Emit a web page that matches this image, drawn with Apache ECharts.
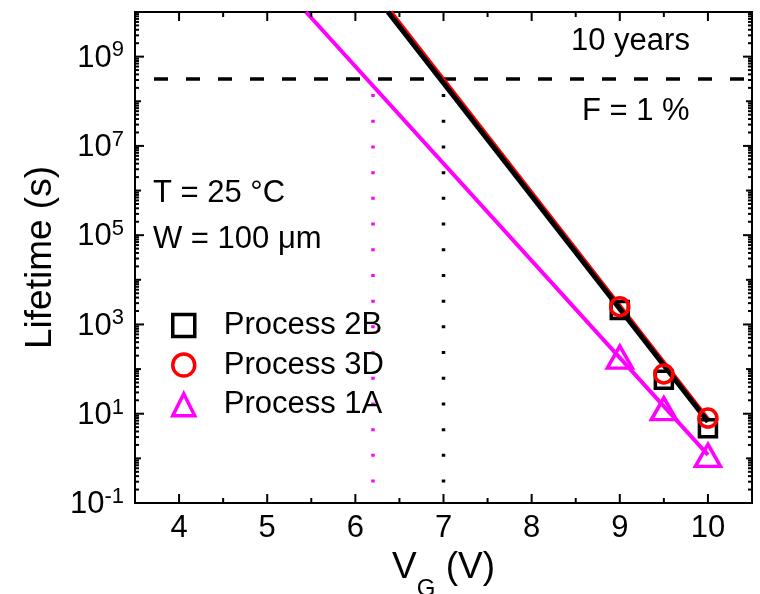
<!DOCTYPE html>
<html>
<head>
<meta charset="utf-8">
<title>Lifetime vs VG</title>
<script src="https://cdn.jsdelivr.net/npm/echarts@6/dist/echarts.min.js"></script>
<style>
html, body { margin: 0; padding: 0; background: #fff; }
#main { width: 760px; height: 594px; }
</style>
</head>
<body>
<div id="main"></div>
<script>
// measured points (V_G in V, lifetime in s)
var vg = [9, 9.5, 10];
var life2B = [2120, 58, 4.7];
var life3D = [2500, 78, 8];
var life1A = [186, 13, 1.17];

// fitted lines, end points
var fit2B = [[6.37, 1e10], [10, 6.6]];
var fit3D = [[6.40, 1e10], [10, 7.5]];
var fit1A = [[5.44, 1e10], [10, 1.2]];

var tenYears = 3.15e8;     // 10 years in s
var vFail2B = 7;           // V_G where the black fit hits 10 years
var vFail1A = 6.2;         // same for process 1A

var xMajor = [4, 5, 6, 7, 8, 9, 10];
var xMinor = [4.5, 5.5, 6.5, 7.5, 8.5, 9.5];
var yLabelExp = [-1, 1, 3, 5, 7, 9];

var FONT = 'Liberation Sans, Arial, Helvetica, sans-serif';

function pairs(xs, ys) {
  var out = [];
  for (var i = 0; i < xs.length; i++) out.push([xs[i], ys[i]]);
  return out;
}

var annotations = [
  { type: 'text', left: 571, top: 26, style: { text: '10 years', font: '31px ' + FONT, fill: '#000' } },
  { type: 'text', left: 582, top: 96, style: { text: 'F = 1 %', font: '31px ' + FONT, fill: '#000' } },
  { type: 'text', left: 153, top: 178, style: { text: 'T = 25 °C', font: '31px ' + FONT, fill: '#000' } },
  { type: 'text', left: 153, top: 224, style: { text: 'W = 100 μm', font: '31px ' + FONT, fill: '#000' } }
];

var chart = echarts.init(document.getElementById('main'));

chart.setOption({
  animation: false,
  backgroundColor: '#fff',
  grid: {
    left: 135, right: 8, top: 12, bottom: 91,
    containLabel: false, outerBoundsMode: 'none',
    show: true, borderColor: '#000', borderWidth: 2, backgroundColor: 'transparent'
  },
  legend: {
    orient: 'vertical',
    left: 171, top: 310, padding: 0,
    itemWidth: 22, itemHeight: 22, itemGap: 8.6,
    textStyle: { fontSize: 31, fontFamily: FONT, color: '#000', padding: [0, 0, 0, 24] },
    data: [
      { name: 'Process 2B', itemStyle: { color: 'rgba(0,0,0,0)', borderColor: '#000', borderWidth: 3.5, opacity: 1 } },
      { name: 'Process 3D', itemStyle: { color: 'rgba(0,0,0,0)', borderColor: '#ff0000', borderWidth: 3.5, opacity: 1 } },
      { name: 'Process 1A', itemStyle: { color: 'rgba(0,0,0,0)', borderColor: '#ff00ff', borderWidth: 3.5, opacity: 1 } }
    ]
  },
  xAxis: {
    type: 'value',
    min: 3.5, max: 10.5, interval: 0.5,
    name: '{a|V}{g|G}{a| (V)}',
    nameLocation: 'middle',
    nameGap: 34,
    nameTextStyle: {
      fontSize: 37, fontFamily: FONT, color: '#000',
      rich: {
        a: { fontSize: 37, fontFamily: FONT, color: '#000', verticalAlign: 'top' },
        g: { fontSize: 24, fontFamily: FONT, color: '#000', verticalAlign: 'bottom', padding: [28, 0, 0, 0] }
      }
    },
    axisLine: { lineStyle: { color: '#000', width: 2 } },
    axisTick: { show: false },
    splitLine: { show: false },
    axisLabel: {
      fontSize: 31, fontFamily: FONT, color: '#000', margin: 10,
      formatter: function (v) { return Math.abs(v - Math.round(v)) < 1e-6 && v > 3.6 && v < 10.4 ? String(Math.round(v)) : ''; }
    }
  },
  yAxis: {
    type: 'log', logBase: 10,
    min: 0.1, max: 1e10, interval: 1,
    name: 'Lifetime (s)',
    nameLocation: 'middle',
    nameRotate: 90,
    nameGap: 70,
    nameTextStyle: { fontSize: 37, fontFamily: FONT, color: '#000' },
    axisLine: { lineStyle: { color: '#000', width: 2 } },
    axisTick: { show: false },
    splitLine: { show: false },
    axisLabel: {
      margin: 11, color: '#000',
      formatter: function (v) {
        var ex = Math.round(Math.log(v) / Math.LN10);
        if (yLabelExp.indexOf(ex) < 0) return '';
        return '{b|10}{s|' + ex + '}';
      },
      rich: {
        b: { fontSize: 31, fontFamily: FONT, color: '#000', verticalAlign: 'bottom', padding: [3.5, 0, 0, 0] },
        s: { fontSize: 22, fontFamily: FONT, color: '#000', verticalAlign: 'top' }
      }
    }
  },
  graphic: annotations,
  series: [
    {
      type: 'line', data: [[3.5, tenYears], [10.5, tenYears]],
      showSymbol: false, symbol: 'none',
      lineStyle: { color: '#000', width: 3.5, type: [14, 18], dashOffset: 13, cap: 'butt' }
    },
    {
      type: 'line', data: [[vFail2B, tenYears], [vFail2B, 0.1]],
      showSymbol: false, symbol: 'none',
      lineStyle: { color: '#000', width: 3.5, type: [3, 22.7], dashOffset: 10.7, cap: 'butt' }
    },
    {
      type: 'line', data: [[vFail1A, tenYears], [vFail1A, 0.1]],
      showSymbol: false, symbol: 'none',
      lineStyle: { color: '#ff00ff', width: 3.5, type: [3, 22.7], dashOffset: 10.7, cap: 'butt' }
    },
    {
      type: 'line', data: fit1A, showSymbol: false, symbol: 'none', clip: true,
      lineStyle: { color: '#ff00ff', width: 4 }
    },
    {
      type: 'line', data: fit3D, showSymbol: false, symbol: 'none', clip: true,
      lineStyle: { color: '#ff0000', width: 4.5 }
    },
    {
      type: 'line', data: fit2B, showSymbol: false, symbol: 'none', clip: true,
      lineStyle: { color: '#000', width: 5 }
    },
    {
      name: 'Process 2B', type: 'scatter', data: pairs(vg, life2B),
      symbol: 'rect', symbolSize: 17, z: 10,
      itemStyle: { color: 'rgba(0,0,0,0)', borderColor: '#000', borderWidth: 3.5, opacity: 1 }
    },
    {
      name: 'Process 3D', type: 'scatter', data: pairs(vg, life3D),
      symbol: 'circle', symbolSize: 18, z: 11,
      itemStyle: { color: 'rgba(0,0,0,0)', borderColor: '#ff0000', borderWidth: 3.5, opacity: 1 }
    },
    {
      name: 'Process 1A', type: 'scatter', data: pairs(vg, life1A),
      symbol: 'triangle', symbolSize: [25, 22], z: 10,
      itemStyle: { color: 'rgba(0,0,0,0)', borderColor: '#ff00ff', borderWidth: 3.5, opacity: 1 }
    }
  ]
});

// inward ticks on all four sides, placed through the chart's own scales
function tickLine(x1, y1, x2, y2) {
  return { type: 'line', z: 50, silent: true,
           shape: { x1: x1, y1: y1, x2: x2, y2: y2 },
           style: { stroke: '#000', lineWidth: 2 } };
}
var lo = chart.convertToPixel({ gridIndex: 0 }, [3.5, 0.1]);
var hi = chart.convertToPixel({ gridIndex: 0 }, [10.5, 1e10]);
var ticks = [];
function addXTick(v, len) {
  var x = chart.convertToPixel({ xAxisIndex: 0 }, v);
  ticks.push(tickLine(x, lo[1], x, lo[1] - len));
  ticks.push(tickLine(x, hi[1], x, hi[1] + len));
}
function addYTick(v, len) {
  var y = chart.convertToPixel({ yAxisIndex: 0 }, v);
  ticks.push(tickLine(lo[0], y, lo[0] + len, y));
  ticks.push(tickLine(hi[0], y, hi[0] - len, y));
}
xMajor.forEach(function (v) { addXTick(v, 9); });
xMinor.forEach(function (v) { addXTick(v, 5); });
for (var e = -1; e <= 10; e++) {
  addYTick(Math.pow(10, e), yLabelExp.indexOf(e) >= 0 ? 9 : 6);
  if (e < 10) {
    for (var m = 2; m <= 9; m++) addYTick(m * Math.pow(10, e), 4);
  }
}
chart.setOption({ graphic: annotations.concat(ticks) });
</script>
</body>
</html>
